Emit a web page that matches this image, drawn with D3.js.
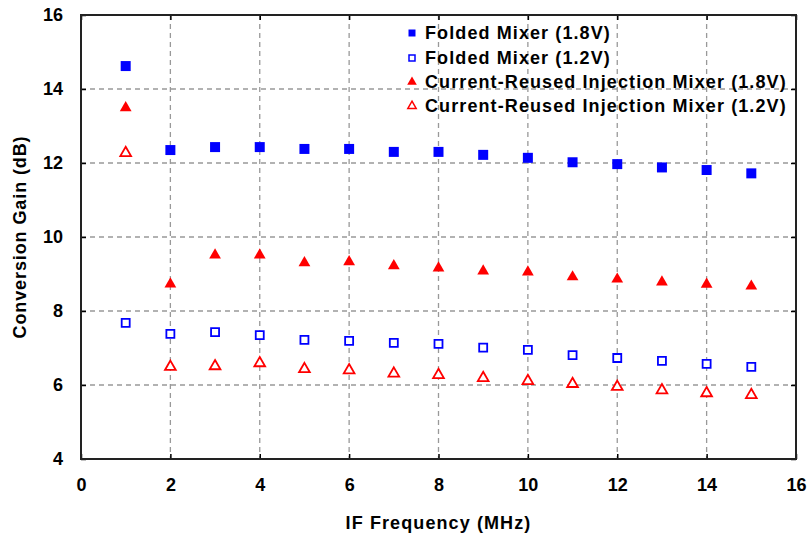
<!DOCTYPE html>
<html>
<head>
<meta charset="utf-8">
<script src="https://cdn.jsdelivr.net/npm/d3@7"></script>
<style>
  html, body { margin: 0; padding: 0; background: #fff; }
  svg text { font-family: "Liberation Sans", Arial, sans-serif; font-weight: bold; fill: #000; }
</style>
</head>
<body>
<svg id="chart" width="808" height="539"></svg>
<script>
// IF frequency points (MHz)
const freqs = [1, 2, 3, 4, 5, 6, 7, 8, 9, 10, 11, 12, 13, 14, 15];

// Conversion gain (dB) for each mixer / supply voltage
const foldedHigh = [14.62, 12.35, 12.43, 12.43, 12.38, 12.38, 12.30, 12.30, 12.22, 12.14, 12.02, 11.97, 11.88, 11.81, 11.72];
const foldedLow = [7.68, 7.38, 7.43, 7.35, 7.22, 7.19, 7.14, 7.11, 7.01, 6.95, 6.81, 6.73, 6.65, 6.57, 6.49];
const injHigh = [13.49, 8.73, 9.51, 9.51, 9.30, 9.33, 9.22, 9.16, 9.08, 9.05, 8.92, 8.86, 8.78, 8.72, 8.67];
const injLow = [12.27, 6.49, 6.51, 6.59, 6.43, 6.40, 6.31, 6.27, 6.19, 6.11, 6.03, 5.95, 5.86, 5.78, 5.73];

const seriesNames = [
  "Folded Mixer (1.8V)",
  "Folded Mixer (1.2V)",
  "Current-Reused Injection Mixer (1.8V)",
  "Current-Reused Injection Mixer (1.2V)"
];

const xTicks = [0, 2, 4, 6, 8, 10, 12, 14, 16];
const yTicks = [4, 6, 8, 10, 12, 14, 16];

const series = [
  { name: seriesNames[0], values: foldedHigh, shape: "square", filled: true, color: "#0000ff" },
  { name: seriesNames[1], values: foldedLow, shape: "square", filled: false, color: "#0000ff" },
  { name: seriesNames[2], values: injHigh, shape: "triangle", filled: true, color: "#ff0000" },
  { name: seriesNames[3], values: injLow, shape: "triangle", filled: false, color: "#ff0000" }
];

const svg = d3.select("#chart");
const margin = { left: 81, top: 15, right: 12, bottom: 80 };
const W = 808, H = 539;
const x = d3.scaleLinear().domain([0, 16]).range([margin.left, W - margin.right]);
const y = d3.scaleLinear().domain([4, 16]).range([H - margin.bottom, margin.top]);

// dashed grid
const grid = svg.append("g");
grid.selectAll("line.gx").data(xTicks.filter(t => t > 0 && t < 16)).join("line")
  .attr("x1", d => x(d)).attr("x2", d => x(d))
  .attr("y1", y(16)).attr("y2", y(4))
  .attr("stroke", "#999").attr("stroke-width", 1.3).attr("stroke-dasharray", "5,4");
grid.selectAll("line.gy").data(yTicks.filter(t => t > 4 && t < 16)).join("line")
  .attr("x1", x(0)).attr("x2", x(16))
  .attr("y1", d => y(d)).attr("y2", d => y(d))
  .attr("stroke", "#999").attr("stroke-width", 1.3).attr("stroke-dasharray", "5,4");

// axes with short inward ticks
const xAxis = svg.append("g").attr("transform", `translate(0,${y(4)})`)
  .call(d3.axisBottom(x).tickValues(xTicks).tickSize(-5).tickPadding(19).tickFormat(d3.format("d")));
const xAxisTop = svg.append("g").attr("transform", `translate(0,${y(16)})`)
  .call(d3.axisTop(x).tickValues(xTicks).tickSize(-5).tickFormat(""));
const yAxis = svg.append("g").attr("transform", `translate(${x(0)},0)`)
  .call(d3.axisLeft(y).tickValues(yTicks).tickSize(-5).tickPadding(18).tickFormat(d3.format("d")));
const yAxisRight = svg.append("g").attr("transform", `translate(${x(16)},0)`)
  .call(d3.axisRight(y).tickValues(yTicks).tickSize(-5).tickFormat(""));

[xAxis, xAxisTop, yAxis, yAxisRight].forEach(g => {
  g.select(".domain").remove();
  g.selectAll(".tick line").attr("stroke", "#000").attr("stroke-width", 1.5);
  g.selectAll("text").style("font-size", "18px").attr("fill", "#000");
});
xAxis.selectAll("text").attr("dy", "0.71em");

// plot frame
svg.append("rect")
  .attr("x", x(0)).attr("y", y(16))
  .attr("width", x(16) - x(0)).attr("height", y(4) - y(16))
  .attr("fill", "none").attr("stroke", "#222").attr("stroke-width", 2);

// markers
const sqFill = d3.symbol().type(d3.symbolSquare).size(100);
const sqOpen = d3.symbol().type(d3.symbolSquare).size(64);
const triFill = d3.symbol().type(d3.symbolTriangle).size(60);
const triOpen = d3.symbol().type(d3.symbolTriangle).size(50);
function symbolFor(s) {
  if (s.shape === "square") return s.filled ? sqFill : sqOpen;
  return s.filled ? triFill : triOpen;
}

series.forEach(s => {
  svg.append("g").selectAll("path").data(freqs.map((f, i) => [f, s.values[i]])).join("path")
    .attr("transform", d => `translate(${x(d[0])},${y(d[1])})`)
    .attr("d", symbolFor(s)())
    .attr("fill", s.filled ? s.color : "#fff")
    .attr("stroke", s.color)
    .attr("stroke-width", s.filled ? 0 : 1.8);
});

// legend
const legend = svg.append("g");
const legRows = [33, 58, 82, 106];
series.forEach((s, i) => {
  const g = legend.append("g").attr("transform", `translate(412,${legRows[i]})`);
  const sym = s.shape === "square"
    ? d3.symbol().type(d3.symbolSquare).size(s.filled ? 49 : 36)
    : d3.symbol().type(d3.symbolTriangle).size(s.filled ? 40 : 30);
  g.append("path").attr("d", sym())
    .attr("fill", s.filled ? s.color : "#fff")
    .attr("stroke", s.color).attr("stroke-width", s.filled ? 0 : 1.5);
  g.append("text").attr("x", 13).attr("dy", "0.36em")
    .style("font-size", "18px").style("letter-spacing", "1.1px")
    .text(s.name);
});

// axis titles
svg.append("text")
  .attr("x", (x(0) + x(16)) / 2).attr("y", 529)
  .attr("text-anchor", "middle").style("font-size", "18px").style("letter-spacing", "1.1px")
  .text("IF Frequency (MHz)");
svg.append("text")
  .attr("transform", `translate(26,${(y(4) + y(16)) / 2}) rotate(-90)`)
  .attr("text-anchor", "middle").style("font-size", "18px").style("letter-spacing", "0.9px")
  .text("Conversion Gain (dB)");
</script>
</body>
</html>
